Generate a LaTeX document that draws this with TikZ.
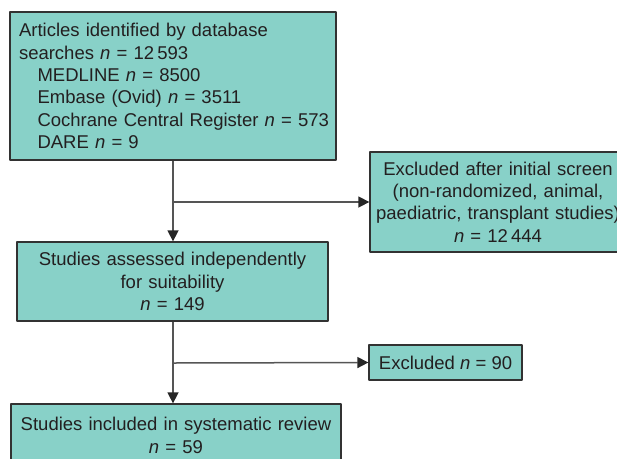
\documentclass[tikz,border=0pt]{standalone}
\usepackage{fontspec}
\setmainfont{Liberation Sans}
\usetikzlibrary{arrows.meta}

\definecolor{boxfill}{RGB}{136,209,200}
\definecolor{boxline}{RGB}{50,50,50}
\definecolor{flowline}{RGB}{85,85,85}
\definecolor{txt}{RGB}{35,31,32}

\tikzset{
	flowbox/.style={draw=boxline, fill=boxfill, line width=1.3pt, text=txt, inner sep=0pt,
		font=\fontsize{18.5}{22.4}\selectfont},
	flowarrow/.style={draw=flowline, line width=1.5pt,
		-{Triangle[length=11pt,width=11pt,color=black!85]}},
}

\begin{document}
\begin{tikzpicture}[x=1pt, y=-1pt, line join=round]
				% Define parameters
				\def\xspine{173} % x of the main vertical line
				\def\ybranchA{202} % height of the first side branch
				\def\ybranchB{363} % height of the second side branch
				
				% Fix the frame of the picture
				\useasboundingbox (0,0) rectangle (617,458);
				
				% Boxes of the main column
				\node[flowbox, minimum width=326pt, minimum height=148pt, text width=308pt, align=left] (articles) at (173,86)
					{Articles identified by database\\
					 searches \textit{n} = 12\,593\\
					 \hspace*{1em}MEDLINE \textit{n} = 8500\\
					 \hspace*{1em}Embase (Ovid) \textit{n} = 3511\\
					 \hspace*{1em}\mbox{Cochrane Central Register \textit{n} = 573}\\
					 \hspace*{1em}DARE \textit{n} = 9};
				\node[flowbox, minimum width=311pt, minimum height=79pt, text width=300pt, align=center] (assessed) at (172.5,281.5)
					{Studies assessed independently\\ for suitability\\ \textit{n} = 149};
				\node[flowbox, minimum width=330pt, minimum height=63pt, text width=320pt, align=center] (included) at (176,435.5)
					{Studies included in systematic review\\ \textit{n} = 59};
				
				% Boxes of the side column
				\node[flowbox, minimum width=256pt, minimum height=100pt, text width=246pt, align=center] (screened) at (498,202)
					{Excluded after initial screen\\ (non-randomized, animal,\\ paediatric, transplant studies)\\ \textit{n} = 12\,444};
				\node[flowbox, minimum width=153pt, minimum height=35pt] (excluded) at (445.5,362.5)
					{Excluded \textit{n} = 90};
				
				% Branch points on the vertical line
				\coordinate (branchA) at (\xspine,\ybranchA);
				\coordinate (branchB) at (\xspine,\ybranchB);
				
				% Draw the connectors
				\draw[flowarrow] (articles.south -| branchA) -- (assessed.north -| branchA);
				\draw[flowarrow] (branchA) -- (screened.west);
				\draw[flowarrow] (assessed.south -| branchB) -- (included.north -| branchB);
				\draw[flowarrow] (branchB) -- (excluded.west);
			\end{tikzpicture}
\end{document}
